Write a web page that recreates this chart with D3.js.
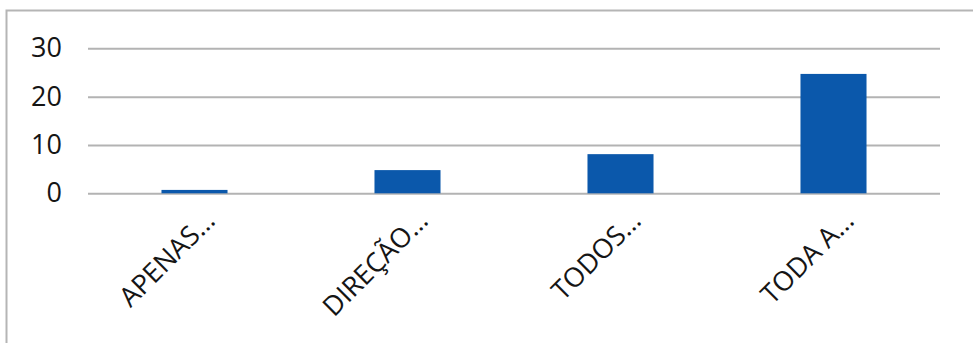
<!DOCTYPE html>
<html>
<head>
<meta charset="utf-8">
<script src="https://cdn.jsdelivr.net/npm/d3@7"></script>
<style>
  html, body { margin: 0; padding: 0; background: #ffffff; }
  svg { display: block; }
</style>
</head>
<body>
<svg id="chart" width="973" height="343"></svg>
<script>
// Chart data
const categories = ["APENAS…", "DIREÇÃO…", "TODOS…", "TODA A…"];
const values = [0.7, 4.8, 8.1, 24.7];
const yTicks = [0, 10, 20, 30];

const W = 973, H = 343;
const plot = { left: 88, right: 940, top: 48.3, bottom: 193.3 };

const svg = d3.select("#chart");

// Outer frame of the chart area
svg.append("rect")
  .attr("x", 6.5).attr("y", 10.5)
  .attr("width", W + 20).attr("height", H + 20)
  .attr("fill", "#ffffff")
  .attr("stroke", "#b5b5b5")
  .attr("stroke-width", 2);

const x = d3.scaleBand()
  .domain(categories)
  .range([plot.left, plot.right])
  .paddingInner(0.69)
  .paddingOuter(0.345);

const y = d3.scaleLinear()
  .domain([0, 30])
  .range([plot.bottom, plot.top]);

// Horizontal gridlines with value labels
const yAxis = d3.axisLeft(y)
  .tickValues(yTicks)
  .tickSize(-(plot.right - plot.left))
  .tickPadding(26)
  .tickFormat(d3.format("d"));

const gy = svg.append("g")
  .attr("transform", `translate(${plot.left},0)`)
  .call(yAxis);
gy.select(".domain").remove();
gy.selectAll(".tick line")
  .attr("stroke", "#b3b3b3")
  .attr("stroke-width", 2);
gy.selectAll(".tick text")
  .attr("fill", "#151515")
  .style("font-family", "'Open Sans', sans-serif")
  .style("font-size", "27px");

// Bars
svg.append("g")
  .selectAll("rect")
  .data(categories.map((c, i) => ({ c, v: values[i] })))
  .join("rect")
  .attr("x", d => x(d.c))
  .attr("width", x.bandwidth())
  .attr("y", d => y(d.v))
  .attr("height", d => y(0) - y(d.v))
  .attr("fill", "#0b58ab");

// Rotated category labels
const xAxis = d3.axisBottom(x).tickSize(0).tickPadding(0);
const gx = svg.append("g")
  .attr("transform", `translate(0,${plot.bottom})`)
  .call(xAxis);
gx.select(".domain").remove();
gx.selectAll(".tick text")
  .attr("fill", "#151515")
  .style("font-family", "'Open Sans', sans-serif")
  .style("font-size", "27px")
  .attr("text-anchor", "end")
  .attr("dy", null)
  .attr("y", 0)
  .attr("transform", "translate(22,29) rotate(-45)");
</script>
</body>
</html>
